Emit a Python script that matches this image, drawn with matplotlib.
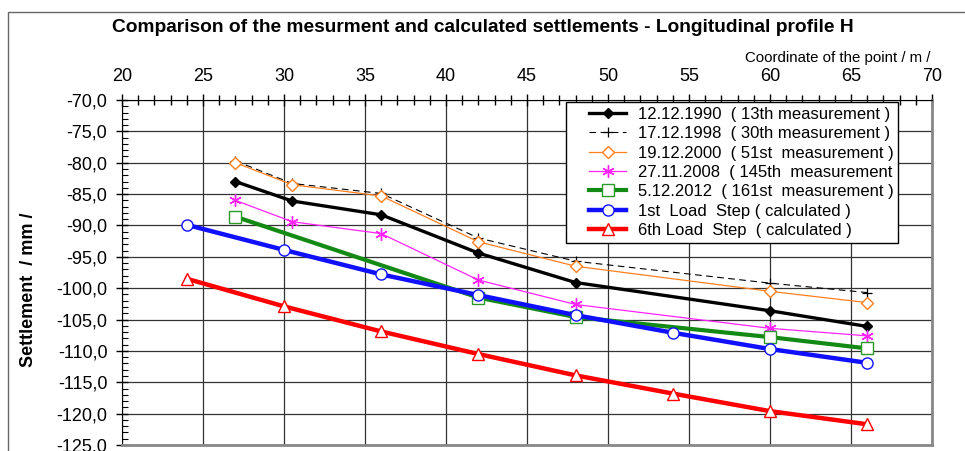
import matplotlib
matplotlib.use("Agg")
import matplotlib.pyplot as plt
from matplotlib.ticker import MultipleLocator, FuncFormatter
from matplotlib.patches import Rectangle
from matplotlib.legend_handler import HandlerLine2D

plt.rcParams['font.family'] = ['Liberation Sans', 'DejaVu Sans']

# ---- data ----
x_meas = [27, 30.5, 36, 42, 48, 60, 66]
y_1990 = [-83.0, -86.1, -88.3, -94.4, -99.1, -103.6, -106.1]
y_1998 = [-79.7, -83.3, -84.9, -92.0, -95.7, -99.2, -100.7]
y_2000 = [-80.0, -83.5, -85.3, -92.6, -96.5, -100.5, -102.3]
y_2008 = [-86.0, -89.4, -91.3, -98.7, -102.6, -106.4, -107.6]
x_2012 = [27, 42, 48, 60, 66]
y_2012 = [-88.6, -101.5, -104.6, -107.8, -109.6]
x_calc = [24, 30, 36, 42, 48, 54, 60, 66]
y_step1 = [-89.9, -93.9, -97.8, -101.1, -104.3, -107.1, -109.7, -111.9]
y_step6 = [-98.5, -102.9, -106.9, -110.5, -113.9, -116.8, -119.6, -121.7]

labels = [
    "12.12.1990  ( 13th measurement )",
    "17.12.1998  ( 30th measurement )",
    "19.12.2000  ( 51st  measurement )",
    "27.11.2008  ( 145th  measurement",
    "5.12.2012  ( 161st  measurement )",
    "1st  Load  Step ( calculated )",
    "6th Load  Step  ( calculated )",
]

W, H = 965, 451
fig = plt.figure(figsize=(W / 100, H / 100), dpi=100)
ax = fig.add_axes([122 / W, 1 - 445 / H, (932 - 122) / W, (445 - 100) / H])

# figure border
fig.patches.append(Rectangle((8 / W, -0.1), 1.2, 1 - 12 / H + 0.1,
                             transform=fig.transFigure, fill=False,
                             edgecolor='#666666', lw=1.0, zorder=0))

ax.plot(x_meas, y_1990, color='black', lw=2.4, marker='D', ms=5,
        mfc='black', mec='black', label=labels[0], zorder=3)
ax.plot(x_meas, y_1998, color='black', lw=0.8, ls=(0, (6, 4)), marker='+',
        ms=7, mew=0.9, label=labels[1], zorder=3)
ax.plot(x_meas, y_2000, color='#ff7f1e', lw=0.9, marker='D', ms=6,
        mfc='white', mec='#ff7f1e', mew=1.0, label=labels[2], zorder=3)
ax.plot(x_meas, y_2008, color='#ff22ff', lw=0.9, marker=(6, 2, 0), ms=9,
        mew=1.0, mec='#ff22ff', label=labels[3], zorder=3)
ax.plot(x_2012, y_2012, color='#138a13', lw=3.0, marker='s', ms=8,
        mfc='white', mec='#2a9a2a', mew=1.0, label=labels[4], zorder=3)
ax.plot(x_calc, y_step1, color='#1010ff', lw=3.2, marker='o', ms=8,
        mfc='white', mec='#1010ff', mew=1.0, label=labels[5], zorder=3)
ax.plot(x_calc, y_step6, color='#ff0000', lw=3.2, marker='^', ms=8,
        mfc='white', mec='#ff0000', mew=1.0, label=labels[6], zorder=3)

ax.set_xlim(20, 70)
ax.set_ylim(-125, -70)

ax.xaxis.set_major_locator(MultipleLocator(5))
ax.xaxis.set_minor_locator(MultipleLocator(1))
ax.yaxis.set_major_locator(MultipleLocator(5))
ax.yaxis.set_minor_locator(MultipleLocator(1))
ax.yaxis.set_major_formatter(FuncFormatter(lambda v, p: f"{v:.1f}".replace('.', ',')))

ax.xaxis.tick_top()
ax.tick_params(axis='x', which='major', direction='inout', length=9, width=1,
               labelsize=13, pad=6, top=True, bottom=False)
ax.tick_params(axis='x', which='minor', direction='inout', length=7, width=1,
               top=True, bottom=False)
ax.tick_params(axis='y', which='major', direction='inout', length=9, width=1,
               labelsize=13, pad=6, left=True, right=False)
ax.tick_params(axis='y', which='minor', direction='in', length=4, width=0.8,
               left=True, right=False)

ax.grid(True, which='major', color='#333333', lw=0.9)
ax.set_axisbelow(True)

ax.spines['top'].set_color('black')
ax.spines['left'].set_color('black')
ax.spines['right'].set_color('#888888')
ax.spines['bottom'].set_color('#888888')
ax.spines['right'].set_linewidth(2)
ax.spines['bottom'].set_linewidth(2)

fig.text(29 / W, 1 - 290 / H, "Settlement  / mm /", rotation=90,
         ha='center', va='center', fontsize=13, fontweight='bold')

fig.text(483 / W, 1 - 28 / H, "Comparison of the mesurment and calculated settlements - Longitudinal profile H",
         ha='center', va='center', fontsize=13.8, fontweight='bold')
fig.text(930 / W, 1 - 58 / H, "Coordinate of the point / m /",
         ha='right', va='center', fontsize=10.8)

fs = 12
hmap = {}
for ln in ax.get_lines():
    hmap[ln] = HandlerLine2D(numpoints=1, xpad=1.1)

leg = ax.legend(loc='upper left', bbox_to_anchor=(566 / W, 1 - 102 / H),
                bbox_transform=fig.transFigure, fontsize=fs, frameon=True,
                fancybox=False, framealpha=1, edgecolor='black',
                handlelength=3.3, handletextpad=0.7, borderpad=0.3,
                labelspacing=0.26, numpoints=1, borderaxespad=0,
                handler_map=hmap)
leg.get_frame().set_linewidth(1.0)
leg.set_zorder(5)

fig.savefig("out.png", dpi=100)
